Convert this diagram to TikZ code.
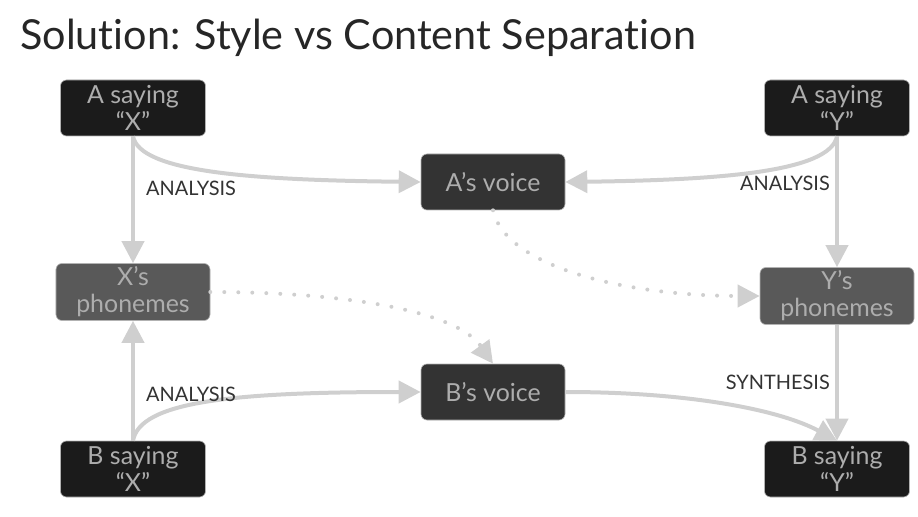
\documentclass[tikz,border=0pt]{standalone}
\usepackage{fontspec}
\setmainfont{Lato}[Ligatures=NoCommon]
\usetikzlibrary{arrows.meta}

\definecolor{boxdark}{HTML}{1B1B1B}
\definecolor{boxmid}{HTML}{333333}
\definecolor{boxlight}{HTML}{595959}
\definecolor{boxtext}{HTML}{ADADAD}
\definecolor{linkgray}{HTML}{CFCFCF}
\definecolor{labeltext}{HTML}{333333}

\begin{document}
\begin{tikzpicture}[x=1bp, y=-1bp, >={Triangle[length=22bp,width=22bp]}]
    	% Define block styles
    	\tikzstyle{block} = [rectangle, draw=gray!60, line width=0.6bp, rounded corners=6bp, text=boxtext, align=center, inner sep=0pt,
    	    font=\fontsize{25}{27}\selectfont, minimum height=56bp]
    	\tikzstyle{speech} = [block, fill=boxdark, minimum width=145bp]
    	\tikzstyle{voice} = [block, fill=boxmid, minimum width=144bp]
    	\tikzstyle{phones} = [block, fill=boxlight, minimum width=154bp, minimum height=57bp]
    	\tikzstyle{line} = [draw=linkgray, line width=4bp, ->]
    	\tikzstyle{hint} = [draw=linkgray, line width=4bp, dash pattern=on 0bp off 14bp, line cap=round]
    	\tikzstyle{tag} = [text=labeltext, font=\fontsize{20}{22}\selectfont, inner sep=0pt]

    	\useasboundingbox (0,0) rectangle (918,517);

    	% Title
    	\node [anchor=base west, text=black!85, font=\fontsize{41.5}{44}\selectfont, inner sep=0pt] (title) at (20,50) {Solution: Style vs Content Separation};

    	% Nodes
    	\node [speech] (A says X) at (133,108) {A saying\\``X''};
    	\node [speech] (A says Y) at (837,108) {A saying\\``Y''};
    	\node [voice] (A voice) at (493,182) {A's voice};
    	\node [phones] (X phones) at (133,292) {X's\\phonemes};
    	\node [phones] (Y phones) at (837,296) {Y's\\phonemes};
    	\node [voice] (B voice) at (493,392) {B's voice};
    	\node [speech] (B says X) at (133,469) {B saying\\``X''};
    	\node [speech] (B says Y) at (837,469) {B saying\\``Y''};

    	% Connecting lines
    	\path [line] (A says X.south) -- (X phones.north);
    	\path [line] (A says X.south) .. controls (140,172) and (250,180) .. (A voice.west);
    	\path [line] (A says Y.south) .. controls (830,172) and (720,180) .. (A voice.east);
    	\path [line] (A says Y.south) -- (Y phones.north);
    	\path [line] (B says X.north) -- (X phones.south);
    	\path [line] (B says X.north) .. controls (140,402) and (230,392) .. (B voice.west);
    	\path [line] (B voice.east) .. controls (690,392) and (780,410) .. (B says Y.north);
    	\path [line] (Y phones.south) -- (B says Y.north);

    	% Dotted hints
    	\path [hint] (A voice.south) .. controls (505,265) and (620,296) .. (740,296);
    	\path [line, shorten <=18bp] (720,296) -- (Y phones.west);
    	\path [hint] (X phones.east) .. controls (350,292) and (455,312) .. (480,345);
    	\path [line, shorten <=17bp] (470,332) -- (B voice.north);

    	% Labels
    	\node [tag, anchor=west] (tag ax) at (146,188) {ANALYSIS};
    	\node [tag, anchor=east] (tag ay) at (830,183) {ANALYSIS};
    	\node [tag, anchor=west] (tag bx) at (146,394) {ANALYSIS};
    	\node [tag, anchor=east] (tag by) at (830,382) {SYNTHESIS};
\end{tikzpicture}
\end{document}
